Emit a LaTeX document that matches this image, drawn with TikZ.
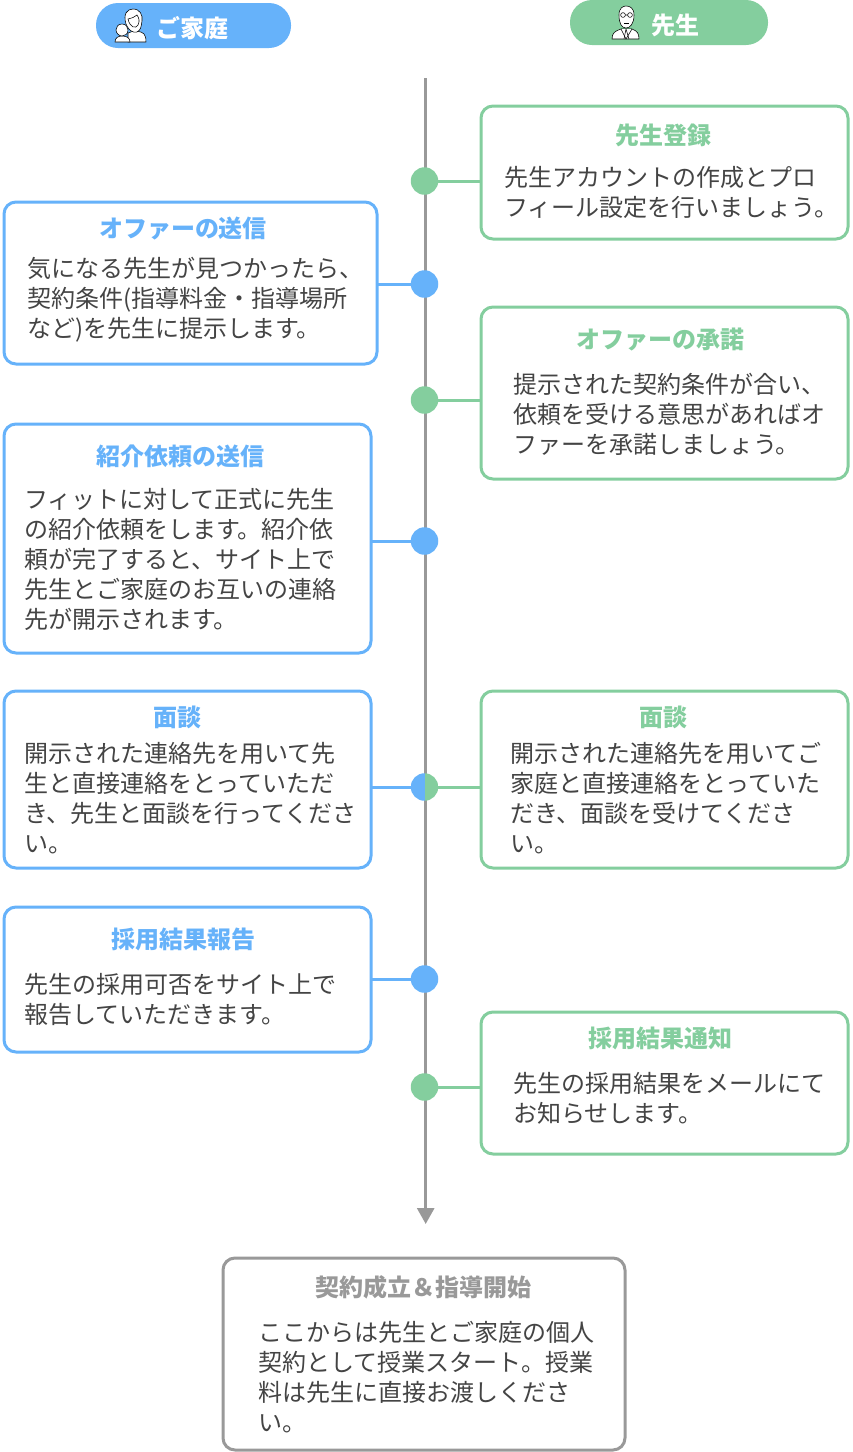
\documentclass[tikz,border=0pt]{standalone}
\usepackage{fontspec}
\setmainfont{Noto Sans CJK JP}
\usetikzlibrary{arrows.meta}
\definecolor{kblue}{HTML}{66B2FA}
\definecolor{kgreen}{HTML}{84CE9E}
\definecolor{kgray}{HTML}{999999}
\definecolor{ktext}{HTML}{444444}
\tikzset{
  x=1pt,y=-1pt,
  card/.style={draw=#1,line width=3pt,rounded corners=12pt,fill=white,inner sep=0pt,outer sep=0pt,anchor=north west},
  ttl/.style={text=#1,font=\fontsize{24}{30}\selectfont\bfseries,inner sep=0pt,anchor=center},
  body/.style={text=ktext,font=\fontsize{24}{30}\selectfont,align=left,inner sep=0pt,anchor=west},
  dot/.style={circle,fill=#1,minimum size=27.5pt,inner sep=0pt,outer sep=0pt},
  link/.style={draw=#1,line width=3pt},
  pill/.style={fill=#1,rounded corners=22pt,inner sep=0pt,outer sep=0pt,anchor=north west},
  pilltext/.style={text=white,font=\fontsize{24}{30}\selectfont\bfseries,inner sep=0pt,anchor=center},
  ico/.style={draw=black,fill=white,line width=0.55pt,line join=round},
}
\begin{document}
\begin{tikzpicture}
\useasboundingbox (0,0) rectangle (852,1452);
% axis
\coordinate (top) at (425.7,78);
\coordinate (tip) at (425.7,1224);
\draw[draw=kgray,line width=3pt,-{Triangle[length=16pt,width=17pt]}] (top) -- (tip);
% pills
\node[pill=kblue,minimum width=195pt,minimum height=45pt] (pf) at (96,3) {};
\node[pilltext] (pft) at (192,28) {ご家庭};
\node[pill=kgreen,minimum width=198pt,minimum height=45pt] (pt) at (570,0) {};
\node[pilltext] (ptt) at (675,25) {先生};
% woman and child icon
\path[ico] (128,33) .. controls (133,30) and (142,31) .. (144,34) .. controls (146,37) and (146,40) .. (146,42) -- (128,42) -- cycle;
\path[ico] (126,24) .. controls (123,14) and (127,9) .. (133,9) .. controls (140,9) and (143,15) .. (142,21) .. controls (141,27) and (141,30) .. (137,32) .. controls (133,33) and (129,31) .. (126,24) -- cycle;
\path[ico] (128,19) .. controls (132,18) and (135,17) .. (137,15) .. controls (139,18) and (140,21) .. (138,25) .. controls (136,29) and (130,28) .. (128,19) -- cycle;
\path[ico] (115,42) .. controls (115,38) and (118,36) .. (122,36) .. controls (127,36) and (130,38) .. (130,42) -- cycle;
\path[ico] (122,24) .. controls (126,24) and (128,27) .. (128,30) .. controls (128,34) and (125,36) .. (122,36) .. controls (119,36) and (116,33) .. (116,30) .. controls (116,27) and (118,24) .. (122,24) -- cycle;
% man icon
\path[ico] (612,39) .. controls (612,33) and (615,31) .. (621,29) -- (632,29) .. controls (637,31) and (639,33) .. (639,39) -- cycle;
\path[ico] (621,29) -- (626,39) -- (632,29);
\path[ico] (626,29) -- (624,39) (626,29) -- (629,39);
\path[ico] (619,15) .. controls (619,8) and (623,6) .. (626,6) .. controls (630,6) and (634,8) .. (634,15) .. controls (634,24) and (630,28) .. (626,28) .. controls (622,28) and (619,24) .. (619,15) -- cycle;
\path[draw=black,line width=0.55pt] (623,15) circle[radius=2.4pt] (630,15) circle[radius=2.4pt] (625.4,15) -- (627.6,15);
\path[draw=black,line width=0.55pt] (624,23) -- (629,23);
% cards
\node[card=kgreen,minimum width=367pt,minimum height=133pt] (r1) at (481,106) {};
\node[card=kblue,minimum width=373pt,minimum height=162pt] (l1) at (4,202) {};
\node[card=kgreen,minimum width=367pt,minimum height=172pt] (r2) at (481,307) {};
\node[card=kblue,minimum width=367pt,minimum height=229pt] (l2) at (4,424) {};
\node[card=kblue,minimum width=367pt,minimum height=177pt] (l3) at (4,691) {};
\node[card=kgreen,minimum width=367pt,minimum height=177pt] (r3) at (481,691) {};
\node[card=kblue,minimum width=367pt,minimum height=145pt] (l4) at (4,907) {};
\node[card=kgreen,minimum width=367pt,minimum height=142pt] (r4) at (481,1012) {};
\node[card=kgray,minimum width=402pt,minimum height=192pt] (end) at (223,1258) {};
% dots
\node[dot=kgreen] (d1) at (424.5,181) {};
\node[dot=kblue] (d2) at (424.5,284) {};
\node[dot=kgreen] (d3) at (424.5,400) {};
\node[dot=kblue] (d4) at (424.5,541) {};
\node[circle,minimum size=27.5pt,inner sep=0pt,outer sep=0pt,path picture={
  \fill[kblue] (path picture bounding box.south west) rectangle (path picture bounding box.north);
  \fill[kgreen] (path picture bounding box.south) rectangle (path picture bounding box.north east);
}] (d5) at (424.5,787) {};
\node[dot=kblue] (d6) at (424.5,979) {};
\node[dot=kgreen] (d7) at (424.5,1087) {};
% connectors
\draw[link=kgreen] (d1.east) -- (d1.east -| r1.west);
\draw[link=kblue] (d2.west) -- (d2.west -| l1.east);
\draw[link=kgreen] (d3.east) -- (d3.east -| r2.west);
\draw[link=kblue] (d4.west) -- (d4.west -| l2.east);
\draw[link=kblue] (d5.west) -- (d5.west -| l3.east);
\draw[link=kgreen] (d5.east) -- (d5.east -| r3.west);
\draw[link=kblue] (d6.west) -- (d6.west -| l4.east);
\draw[link=kgreen] (d7.east) -- (d7.east -| r4.west);
% card texts
\node[ttl=kgreen] at (663,135) {先生登録};
\node[body] at (504,192) {先生アカウントの作成とプロ\\フィール設定を行いましょう。};
\node[ttl=kblue] at (183,228.7) {オファーの送信};
\node[body] at (27,300) {気になる先生が見つかったら、\\契約条件(指導料金・指導場所\\など)を先生に提示します。};
\node[ttl=kgreen] at (660,339.7) {オファーの承諾};
\node[body] at (513,414) {提示された契約条件が合い、\\依頼を受ける意思があればオ\\ファーを承諾しましょう。};
\node[ttl=kblue] at (180,456) {紹介依頼の送信};
\node[body] at (24,559) {フィットに対して正式に先生\\の紹介依頼をします。紹介依\\頼が完了すると、サイト上で\\先生とご家庭のお互いの連絡\\先が開示されます。};
\node[ttl=kblue] at (177,717) {面談};
\node[body] at (24,798) {開示された連絡先を用いて先\\生と直接連絡をとっていただ\\き、先生と面談を行ってくださ\\い。};
\node[ttl=kgreen] at (663,717) {面談};
\node[body] at (510,798) {開示された連絡先を用いてご\\家庭と直接連絡をとっていた\\だき、面談を受けてくださ\\い。};
\node[ttl=kblue] at (183,939) {採用結果報告};
\node[body] at (24,999) {先生の採用可否をサイト上で\\報告していただきます。};
\node[ttl=kgreen] at (660,1038) {採用結果通知};
\node[body] at (513,1098) {先生の採用結果をメールにて\\お知らせします。};
\node[ttl=kgray] at (423,1287) {契約成立＆指導開始};
\node[body] at (258.5,1377) {ここからは先生とご家庭の個人\\契約として授業スタート。授業\\料は先生に直接お渡しくださ\\い。};
\end{tikzpicture}
\end{document}
